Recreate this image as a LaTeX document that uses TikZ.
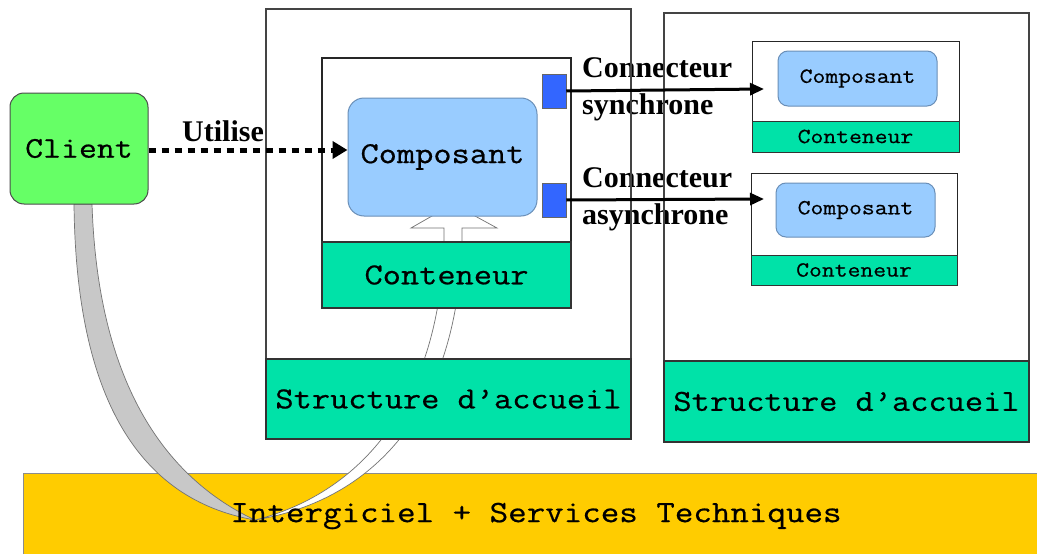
\documentclass[tikz,border=0pt]{standalone}
\usepackage{fontspec}
\setmainfont{Liberation Serif}
\setmonofont{Latin Modern Mono}[FakeStretch=1.16,FakeBold=0.6]
\newcommand{\monofont}{\ttfamily}
\usetikzlibrary{arrows.meta}
\definecolor{clientgreen}{HTML}{66FF66}
\definecolor{compblue}{HTML}{99CCFF}
\definecolor{compedge}{HTML}{6A8FB8}
\definecolor{contgreen}{HTML}{00E2A8}
\definecolor{mwyellow}{HTML}{FFCC00}
\definecolor{portblue}{HTML}{3366FF}
\definecolor{bandgray}{HTML}{C8C8C8}
\definecolor{framegray}{HTML}{444444}
\begin{document}
\begin{tikzpicture}[x=1pt,y=-1pt,
  frame/.style={draw=framegray, line width=1.2pt, inner sep=0pt},
  greenpart/.style={draw=black!80, line width=1.2pt, fill=contgreen, inner sep=0pt, font=\monofont\fontsize{30.5}{30}\selectfont},
  smallgreen/.style={draw=black!80, line width=1pt, fill=contgreen, inner sep=0pt, font=\monofont\fontsize{21.5}{21}\selectfont},
  compbig/.style={draw=compedge, line width=1pt, fill=compblue, rounded corners=16pt, inner sep=0pt, font=\monofont\fontsize{30.5}{30}\selectfont},
  compsmall/.style={draw=compedge, line width=1pt, fill=compblue, rounded corners=10pt, inner sep=0pt, font=\monofont\fontsize{21.5}{21}\selectfont},
  port/.style={draw=black!60, line width=0.5pt, fill=portblue, inner sep=0pt, minimum width=24pt, minimum height=34pt},
  lbl/.style={inner sep=0pt, font=\fontsize{30}{37}\selectfont\bfseries, align=left},
  conn/.style={draw=black, line width=3pt, -{Triangle[length=14pt,width=12pt]}},
  band/.style={draw=black!55, line width=0.7pt}
]
\useasboundingbox (0,0) rectangle (1037,554);
\fill[white] (0,0) rectangle (1037,554);

% middleware bar
\fill[mwyellow] (23,473) rectangle (1037,554);
\draw[black!45, line width=1pt] (23,554) -- (23,473) -- (1037,473);

% connector labels
\node[lbl, anchor=west] (lsync) at (582,89) {Connecteur\\synchrone};
\node[lbl, anchor=west] (lasync) at (582,199) {Connecteur\\asynchrone};

% frames
\node[frame, minimum width=365pt, minimum height=430pt] (s1) at (448.5,224) {};
\node[frame, minimum width=365pt, minimum height=429pt] (s2) at (846.5,227.5) {};
\node[frame, draw=black!85, minimum width=249pt, minimum height=250pt] (c1) at (446.5,183) {};

% bands
\draw[band, fill=white] (411,228) -- (453,204) -- (497,228) -- (462,228) -- (462,245)
   .. controls (456,410) and (375,500) .. (255,520)
   .. controls (355,495) and (438,410) .. (444,245) -- (444,228) -- cycle;
\draw[band, fill=bandgray] (74,204) .. controls (76,400) and (140,500) .. (255,520)
   .. controls (170,480) and (98,390) .. (92,204) -- cycle;

% green parts
\node[greenpart, minimum width=365pt, minimum height=80pt] (sa1) at (448.5,399) {Structure d’accueil};
\node[greenpart, minimum width=365pt, minimum height=81pt] (sa2) at (846.5,401.5) {Structure d’accueil};
\node[greenpart, minimum width=249pt, minimum height=66pt] (ct1) at (446.5,275) {Conteneur};

% main component
\node[compbig, minimum width=189pt, minimum height=118pt] (comp) at (442.5,157) {Composant};
\node[port] (p1) at (554,91) {};
\node[port] (p2) at (554,200) {};

% right containers
\node[frame, draw=black!85, line width=1pt, minimum width=207pt, minimum height=111pt] (c2) at (855.5,96.5) {};
\node[smallgreen, minimum width=207pt, minimum height=31pt] (ct2) at (855.5,136.5) {Conteneur};
\node[compsmall, minimum width=159pt, minimum height=55pt] (comp2) at (857.5,78.5) {Composant};
\node[frame, draw=black!85, line width=1pt, minimum width=206pt, minimum height=112pt] (c3) at (854,229) {};
\node[smallgreen, minimum width=206pt, minimum height=30pt] (ct3) at (854,270) {Conteneur};
\node[compsmall, minimum width=159pt, minimum height=54pt] (comp3) at (855.5,210) {Composant};

% client
\node[draw=black!70, line width=1pt, fill=clientgreen, rounded corners=14pt, minimum width=138pt, minimum height=111pt, inner sep=0pt, font=\monofont\fontsize{30}{30}\selectfont] (client) at (79,148.5) {Client};

% arrows
\draw[line width=5pt, dash pattern=on 7pt off 6pt, -{Triangle[length=15pt,width=17pt]}] (client.east |- 0,150) -- (comp.west |- 0,150);
\node[lbl] (uti) at (223,131) {Utilise};
\coordinate (t1) at (764,89);
\coordinate (t2) at (764,199);
\draw[conn] (p1.east) -- (t1);
\draw[conn] (p2.east) -- (t2);

% middleware text
\node[inner sep=0pt, font=\monofont\fontsize{31}{31}\selectfont] (mw) at (536,516) {Intergiciel + Services Techniques};
\end{tikzpicture}
\end{document}
